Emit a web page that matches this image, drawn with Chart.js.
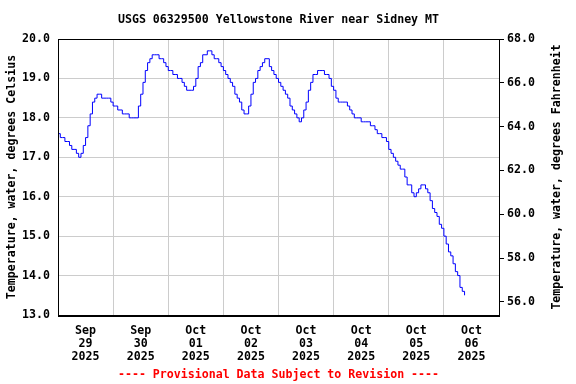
<!DOCTYPE html>
<html>
<head>
<meta charset="utf-8">
<script src="https://cdn.jsdelivr.net/npm/chart.js@4/dist/chart.umd.min.js"></script>
<style>
  body { margin: 0; background: #fff; }
  canvas { display: block; }
</style>
</head>
<body>
<canvas id="usgs-chart" width="576" height="384"></canvas>
<script>
// chart data
const dayMonths = ["Sep", "Sep", "Oct", "Oct", "Oct", "Oct", "Oct", "Oct"];
const dayNumbers = ["29", "30", "01", "02", "03", "04", "05", "06"];
const dayYear = "2025";
const celsiusTicks = [13, 14, 15, 16, 17, 18, 19, 20];
const fahrenheitTicks = [56, 58, 60, 62, 64, 66, 68];

// hourly water temperature (deg C), first value is Sep 29 2025 00:00
const waterTemp = [
  17.6, 17.5, 17.5, 17.4, 17.4, 17.3, 17.2, 17.2, 17.1, 17.0,
  17.1, 17.3, 17.5, 17.8, 18.1, 18.4, 18.5, 18.6, 18.6, 18.5,
  18.5, 18.5, 18.5, 18.4, 18.3, 18.3, 18.2, 18.2, 18.1, 18.1,
  18.1, 18.0, 18.0, 18.0, 18.0, 18.3, 18.6, 18.9, 19.2, 19.4,
  19.5, 19.6, 19.6, 19.6, 19.5, 19.5, 19.4, 19.3, 19.2, 19.2,
  19.1, 19.1, 19.0, 19.0, 18.9, 18.8, 18.7, 18.7, 18.7, 18.8,
  19.0, 19.3, 19.4, 19.6, 19.6, 19.7, 19.7, 19.6, 19.5, 19.5,
  19.4, 19.3, 19.2, 19.1, 19.0, 18.9, 18.8, 18.6, 18.5, 18.4,
  18.2, 18.1, 18.1, 18.3, 18.6, 18.9, 19.0, 19.2, 19.3, 19.4,
  19.5, 19.5, 19.3, 19.2, 19.1, 19.0, 18.9, 18.8, 18.7, 18.6,
  18.5, 18.3, 18.2, 18.1, 18.0, 17.9, 18.0, 18.2, 18.4, 18.7,
  18.9, 19.1, 19.1, 19.2, 19.2, 19.2, 19.1, 19.1, 19.0, 18.8,
  18.7, 18.5, 18.4, 18.4, 18.4, 18.4, 18.3, 18.2, 18.1, 18.0,
  18.0, 18.0, 17.9, 17.9, 17.9, 17.9, 17.8, 17.8, 17.7, 17.6,
  17.6, 17.5, 17.5, 17.4, 17.2, 17.1, 17.0, 16.9, 16.8, 16.7,
  16.7, 16.5, 16.3, 16.3, 16.1, 16.0, 16.1, 16.2, 16.3, 16.3,
  16.2, 16.1, 15.9, 15.7, 15.6, 15.5, 15.3, 15.2, 15.0, 14.8,
  14.6, 14.5, 14.3, 14.1, 14.0, 13.7, 13.6, 13.5,
];

const FONT = '"DejaVu Sans Mono", monospace';
const tickFont = { family: FONT, size: 11.6, weight: "bold", lineHeight: "13px" };
const gridGray = "#cccccc";
const cMin = celsiusTicks[0];
const cMax = celsiusTicks[celsiusTicks.length - 1];
const toF = function (c) { return c * 1.8 + 32; };

// frame, titles and footer
const usgsDecor = {
  id: "usgsDecor",
  afterDatasetsDraw: function (chart) {
    const ctx = chart.ctx;
    const a = chart.chartArea;
    ctx.save();
    ctx.strokeStyle = "#000";
    ctx.lineWidth = 1;
    ctx.strokeRect(a.left + 0.5, a.top + 0.5, a.right - a.left, a.bottom - a.top);
    ctx.beginPath();
    ctx.moveTo(a.left, a.bottom + 1.5);
    ctx.lineTo(a.right + 1, a.bottom + 1.5);
    ctx.stroke();

    const mid = (a.left + a.right) / 2;
    const midY = (a.top + a.bottom) / 2;
    ctx.font = "bold 11.6px " + FONT;
    ctx.textAlign = "center";
    ctx.textBaseline = "middle";
    ctx.fillStyle = "#000";
    ctx.fillText("USGS 06329500 Yellowstone River near Sidney MT", mid, 20);

    ctx.save();
    ctx.translate(12, midY);
    ctx.rotate(-Math.PI / 2);
    ctx.fillText("Temperature, water, degrees Celsius", 0, 0);
    ctx.restore();

    ctx.save();
    ctx.translate(557, midY);
    ctx.rotate(-Math.PI / 2);
    ctx.fillText("Temperature, water, degrees Fahrenheit", 0, 0);
    ctx.restore();

    ctx.fillStyle = "#ff0000";
    ctx.fillText("---- Provisional Data Subject to Revision ----", mid, 375);
    ctx.restore();
  },
};

const ctx1 = document.getElementById("usgs-chart").getContext("2d");
const myChart = new Chart(ctx1, {
  type: "line",
  data: {
    datasets: [
      {
        label: "Temperature, water",
        data: waterTemp.map(function (v, i) { return { x: i, y: v }; }),
        borderColor: "#0000ff",
        borderWidth: 1,
        pointRadius: 0,
        stepped: true,
        fill: false,
      },
    ],
  },
  options: {
    responsive: false,
    animation: false,
    devicePixelRatio: 1,
    layout: { padding: { top: 39, left: 0, right: 0, bottom: 0 } },
    plugins: {
      legend: { display: false },
      tooltip: { enabled: false },
    },
    scales: {
      x: {
        type: "linear",
        min: 0,
        max: dayNumbers.length * 24,
        afterBuildTicks: function (scale) {
          scale.ticks = [];
          for (let h = 0; h <= dayNumbers.length * 24; h += 12) {
            scale.ticks.push({ value: h });
          }
        },
        afterFit: function (scale) { scale.height = 69; },
        ticks: {
          autoSkip: false,
          maxRotation: 0,
          padding: 9,
          color: "#000",
          font: tickFont,
          callback: function (value) {
            if (value % 24 !== 12) return "";
            const i = (value - 12) / 24;
            return [dayMonths[i], dayNumbers[i], dayYear];
          },
        },
        grid: {
          drawTicks: false,
          color: function (c) {
            return c.tick && c.tick.value % 24 === 0 ? gridGray : "rgba(0,0,0,0)";
          },
        },
        border: { display: false },
      },
      y: {
        position: "left",
        min: cMin,
        max: cMax,
        afterBuildTicks: function (scale) {
          scale.ticks = celsiusTicks.map(function (v) { return { value: v }; });
        },
        afterFit: function (scale) { scale.width = 58; },
        ticks: {
          padding: 8,
          color: "#000",
          font: tickFont,
          callback: function (v) { return v.toFixed(1); },
        },
        grid: { drawTicks: false, color: gridGray },
        border: { display: false },
      },
      y1: {
        position: "right",
        min: toF(cMin),
        max: toF(cMax),
        afterBuildTicks: function (scale) {
          scale.ticks = fahrenheitTicks.map(function (v) { return { value: v }; });
        },
        afterFit: function (scale) { scale.width = 77; },
        ticks: {
          padding: 3,
          color: "#000",
          font: tickFont,
          callback: function (v) { return v.toFixed(1); },
        },
        grid: {
          drawOnChartArea: false,
          drawTicks: true,
          tickLength: 5,
          tickColor: "#000",
        },
        border: { display: false },
      },
    },
  },
  plugins: [usgsDecor],
});
</script>
</body>
</html>
